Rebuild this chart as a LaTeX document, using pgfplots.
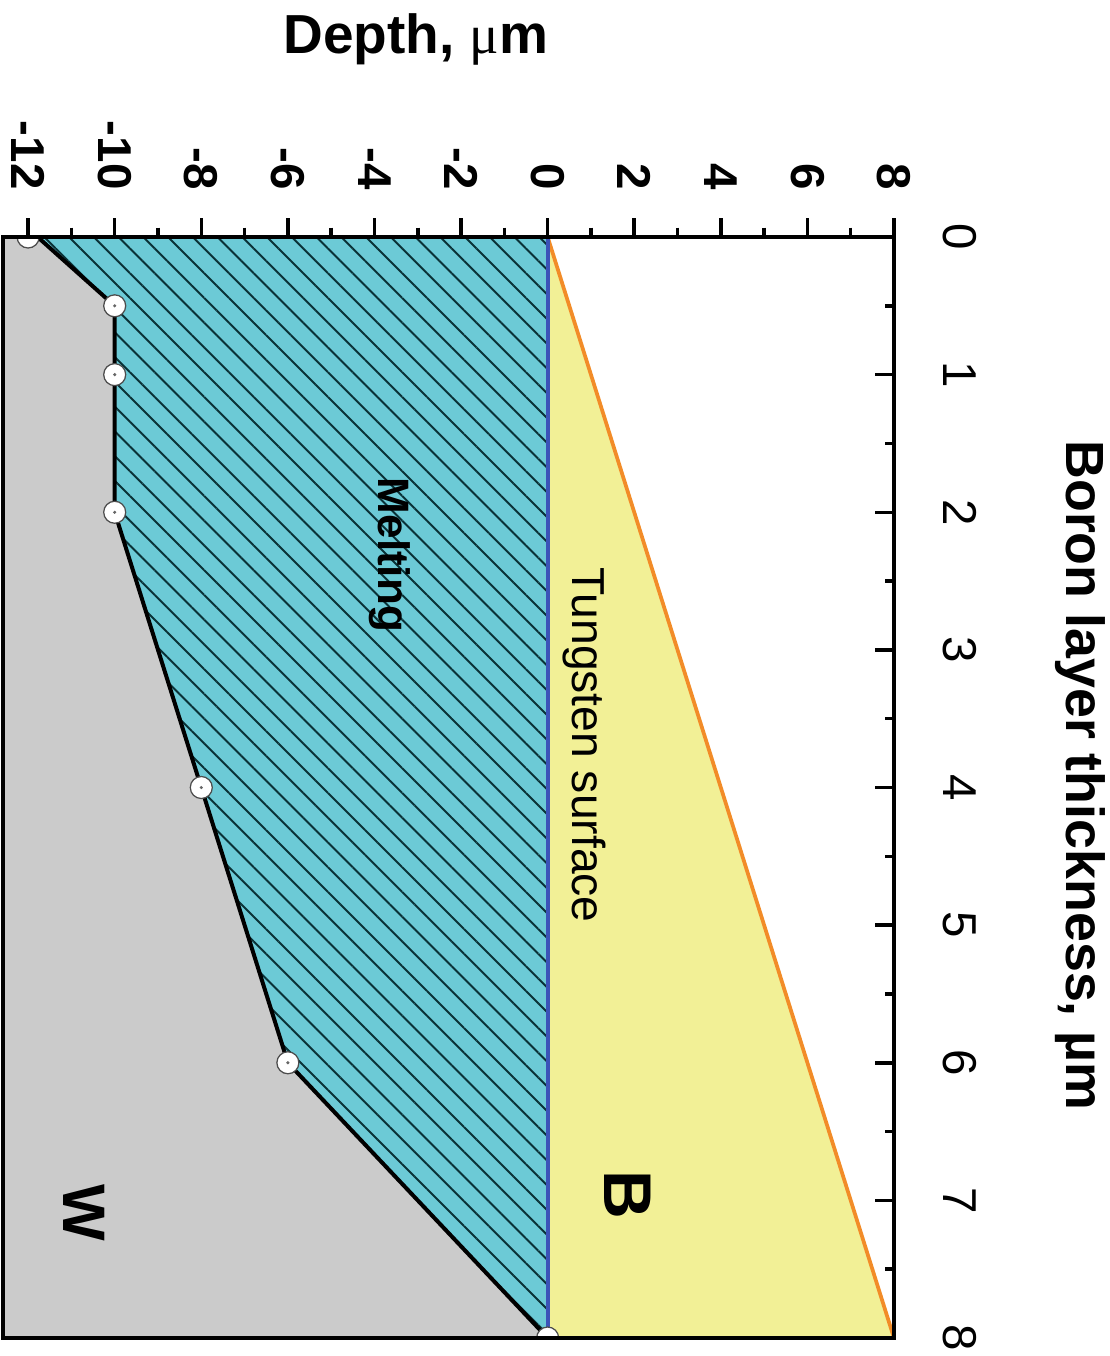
\documentclass[border=0pt]{standalone}
\usepackage{fontspec}
\setmainfont{Liberation Sans}
\newfontfamily\seriffont{Liberation Serif}
\usepackage{pgfplots}
\pgfplotsset{compat=1.18}
\usetikzlibrary{patterns.meta}
\definecolor{grayc}{RGB}{203,203,203}
\definecolor{cyanc}{RGB}{108,202,214}
\definecolor{yellowc}{RGB}{242,240,150}
\definecolor{bluec}{RGB}{59,83,184}
\definecolor{orangec}{RGB}{242,140,40}
\definecolor{hatchc}{RGB}{10,50,55}
\begin{document}
\begin{tikzpicture}
\begin{axis}[name=ax, width=356.4pt, height=440.4pt, scale only axis,
  xmin=-12.58, xmax=8, ymin=0, ymax=8, y dir=reverse,
  xtick={-12,-10,...,8}, ytick={0,1,...,8},
  minor x tick num=1, minor y tick num=1,
  xtick pos=right, ytick pos=right, xticklabel pos=right, yticklabel pos=right,
  xtick align=outside, ytick align=inside,
  major tick length=7.6pt, minor tick length=3.8pt,
  tick style={black, line width=1.4pt},
  axis line style={line width=1.6pt},
  /pgf/number format/assume math mode=true,
  ticklabel style={font=\fontsize{19}{22}\selectfont, inner sep=0pt},
  xticklabel style={rotate=-90, anchor=east, font=\bfseries\fontsize{19}{22}\selectfont},
  yticklabel style={rotate=-90, anchor=south},
  xticklabel shift=11.2pt, yticklabel shift=19.6pt,
  clip marker paths=true,
  axis on top,
]
% W region (gray)
\addplot[draw=none, fill=grayc] coordinates {(-13,-1) (-11.78,-1) (-11.78,0) (-10,0.5) (-10,1) (-10,2) (-8,4) (-6,6) (0,8) (0,9) (-13,9)} -- cycle;
% melting region (cyan hatched)
\addplot[draw=none, fill=cyanc, postaction={pattern={Lines[angle=-45,distance=7pt,line width=0.8pt]}, pattern color=hatchc}] coordinates {(-11.78,0) (0,0) (0,8) (-6,6) (-8,4) (-10,2) (-10,1) (-10,0.5)} -- cycle;
% boron layer (yellow)
\addplot[draw=none, fill=yellowc] coordinates {(0,0) (8,8) (0,8)} -- cycle;
% lines
\addplot[orangec, line width=1.5pt] coordinates {(0,0) (8,8) (0,8)};
\addplot[bluec, line width=1.5pt] coordinates {(-11.78,0) (0,0) (0,8)};
\addplot[black, line width=1.6pt] coordinates {(-11.78,0) (-10,0.5) (-10,1) (-10,2) (-8,4) (-6,6) (0,8)};
% markers
\addplot[only marks, mark=*, mark size=4.4pt, mark options={fill=white, draw=black!70, line width=0.5pt}] coordinates {(-12,0) (-10,0.5) (-10,1) (-10,2) (-8,4) (-6,6) (0,8)};
\addplot[only marks, mark=*, mark size=0.4pt, black!60] coordinates {(-12,0) (-10,0.5) (-10,1) (-10,2) (-8,4) (-6,6) (0,8)};
% texts
\node[rotate=-90, font=\bfseries\fontsize{17.6}{20}\selectfont] at (axis cs:-3.64,2.31) {Melting};
\node[rotate=-90, font=\fontsize{18.5}{21}\selectfont] at (axis cs:0.84,3.69) {Tungsten surface};
\node[rotate=-90, font=\bfseries\fontsize{27}{30}\selectfont] at (axis cs:1.86,6.96) {B};
\node[rotate=-90, font=\bfseries\fontsize{24}{27}\selectfont] at (axis cs:-10.7,7.09) {W};
\end{axis}
\node[rotate=-90, font=\bfseries\fontsize{21.5}{24}\selectfont] at ([shift={(74.4pt,4.8pt)}]ax.east) {Boron layer thickness, µm};
\node[font=\bfseries\fontsize{22}{26}\selectfont] at ([shift={(-13pt,79.2pt)}]ax.north) {Depth, {\seriffont\mdseries μ}m};
\pgfresetboundingbox
\path[use as bounding box] ([shift={(-1.2pt,-7.2pt)}]ax.south west) rectangle ([shift={(86pt,94.8pt)}]ax.north east);
\end{tikzpicture}
\end{document}
